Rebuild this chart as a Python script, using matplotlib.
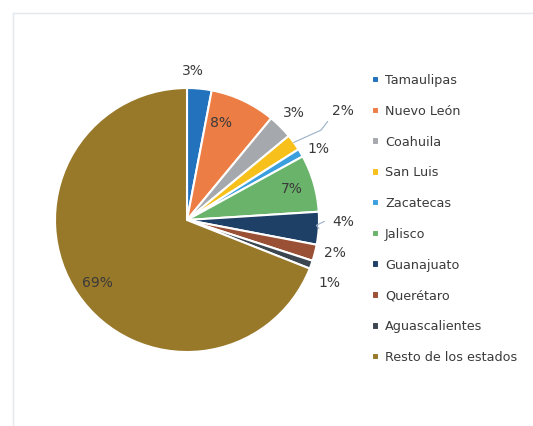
import numpy as np
import matplotlib.pyplot as plt

# Data
estados = ["Tamaulipas", "Nuevo León", "Coahuila", "San Luis", "Zacatecas",
           "Jalisco", "Guanajuato", "Querétaro", "Aguascalientes",
           "Resto de los estados"]
porcentajes = [3, 8, 3, 2, 1, 7, 4, 2, 1, 69]
etiquetas = ["3%", "8%", "3%", "2%", "1%", "7%", "4%", "2%", "1%", "69%"]

colores = ["#2272bd", "#ec7d45", "#a5a9ad", "#f8c01a", "#3b9fde",
           "#6ab36a", "#1e3f66", "#9a5034", "#3c4650", "#987829"]

# label placement (radial distance, angle nudge in degrees)
dist = [1.13, 0.78, 1.15, 1.44, 1.13, 0.83, 1.18, 1.15, 1.18, 0.83]
nudge = [3, 6, 0, -1, -2, 0, 3, 2, -4, 1]
guia = [False, False, False, True, False, False, True, False, False, False]

fig = plt.figure(figsize=(5.33, 4.26), dpi=100)
fig.patch.set_facecolor("white")

# faint frame of the scanned chart area
fig.add_artist(plt.Line2D([13/533, 13/533], [0, 1 - 13/426], color="#e3e8ef", lw=1))
fig.add_artist(plt.Line2D([13/533, 1], [1 - 13/426, 1 - 13/426], color="#e3e8ef", lw=1))

ax = fig.add_axes([0.0784, 0.1427, 0.5449, 0.6817])
wedges, _ = ax.pie(porcentajes, colors=colores, startangle=90, counterclock=False,
                   wedgeprops=dict(edgecolor="white", linewidth=1.5))
ax.set_xlim(-1.1, 1.1)
ax.set_ylim(-1.1, 1.1)
ax.set_aspect("equal")
ax.axis("off")

for w, txt, d, n, g in zip(wedges, etiquetas, dist, nudge, guia):
    ang = np.deg2rad((w.theta1 + w.theta2) / 2 + n)
    x, y = d * np.cos(ang), d * np.sin(ang)
    ax.text(x, y, txt, ha="center", va="center", fontsize=10, color="#3a3a3a")
    if g:
        ang0 = np.deg2rad((w.theta1 + w.theta2) / 2)
        ax.plot([1.0 * np.cos(ang0), (d - 0.2) * np.cos(ang), (d - 0.14) * np.cos(ang)],
                [1.0 * np.sin(ang0), (d - 0.2) * np.sin(ang) - 0.03, (d - 0.14) * np.sin(ang)],
                color="#9ab0c8", lw=0.8, clip_on=False)

leg = fig.legend(wedges, estados, loc="upper left", bbox_to_anchor=(0.677, 0.853),
                 frameon=False, fontsize=9.2, handlelength=0.55, handleheight=0.55,
                 handletextpad=0.45, labelspacing=1.39, labelcolor="#3a3a3a")

plt.savefig("out.png", dpi=100)
